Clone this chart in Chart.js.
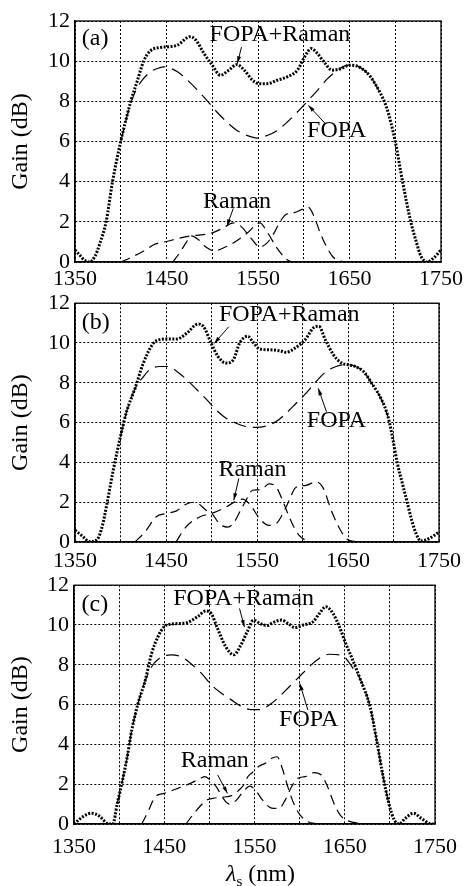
<!DOCTYPE html>
<html>
<head>
<meta charset="utf-8">
<script src="https://cdn.jsdelivr.net/npm/chart.js@4.4.1/dist/chart.umd.min.js"></script>
<style>
  html, body { margin: 0; padding: 0; background: #fff; }
  body { width: 467px; height: 886px; position: relative; overflow: hidden; }
  canvas { position: absolute; left: 0; }
</style>
</head>
<body>
<canvas id="ca" width="467" height="287" style="top:0px"></canvas>
<canvas id="cb" width="467" height="282" style="top:285px"></canvas>
<canvas id="cc" width="467" height="319" style="top:567px"></canvas>
<script>
// axis ticks
const xTicksShown = [1350, 1450, 1550, 1650, 1750];
const yTicks = [0, 2, 4, 6, 8, 10, 12];

// ---- panel (a) ----
const aTotalNm = [1350,1355,1360,1366,1372,1377,1384,1391,1400,1411,1418,1425,1432,1443,1454,1462,1476,1482,1491,1500,1509,1518,1527,1535,1544,1551,1560,1571,1582,1593,1602,1608,1615,1622,1631,1641,1650,1657,1666,1673,1684,1691,1700,1708,1717,1723,1728,1735,1742,1750];
const aTotalDb = [0.6,0.35,0.1,0,0.3,0.9,2.0,4.0,6.0,8.0,9.0,10.0,10.5,10.68,10.72,10.8,11.22,11.05,10.38,9.8,9.3,9.55,9.83,9.55,9.05,8.88,8.88,9.05,9.22,9.55,10.3,10.63,10.38,9.97,9.55,9.63,9.8,9.77,9.55,9.22,8.38,7.63,6.0,4.0,2.0,1.0,0.3,0,0.2,0.6];
const aFopaNm = [1400,1406,1412,1421,1432,1443,1447,1462,1473,1484,1495,1505,1516,1527,1538,1549,1560,1571,1582,1593,1604,1615,1626,1637,1648,1657,1666,1673,1684];
const aFopaDb = [6.0,7.1,8.05,8.9,9.45,9.68,9.72,9.47,9.05,8.55,8.0,7.47,6.97,6.55,6.3,6.17,6.3,6.55,6.97,7.47,8.0,8.55,9.13,9.55,9.8,9.77,9.55,9.22,8.38];
const aRamanANm = [1400,1410,1424,1438,1450,1461,1476,1488,1500,1512,1523,1532,1542,1552,1560,1567,1574,1581,1589,1600,1605,1611,1618,1625,1632,1640,1650];
const aRamanADb = [0,0.2,0.52,0.9,1.02,1.15,1.3,1.35,1.45,1.7,1.95,1.75,1.2,0.75,0.95,1.4,2.0,2.38,2.45,2.65,2.72,2.3,1.45,0.75,0.25,0.05,0];
const aRamanBNm = [1457,1465,1472,1477,1484,1493,1503,1512,1523,1538,1552,1560,1570,1581,1587];
const aRamanBDb = [0,0.5,1.0,1.3,1.15,0.75,0.55,0.7,0.95,1.43,1.95,1.5,0.74,0.14,0];

// ---- panel (b) ----
const bTotalNm = [1350,1358,1366,1374,1380,1385,1392,1400,1407,1416,1425,1436,1443,1451,1462,1473,1485,1491,1500,1507,1516,1524,1531,1540,1545,1553,1564,1575,1582,1592,1603,1612,1618,1625,1634,1643,1650,1658,1667,1676,1687,1694,1700,1704,1710,1715,1720,1725,1730,1739,1750];
const bTotalDb = [0.59,0.3,0.02,0.1,0.8,1.9,3.6,5.3,6.6,7.72,8.98,9.98,10.17,10.2,10.2,10.5,10.95,10.84,9.95,9.33,8.99,9.16,10.0,10.34,10.08,9.7,9.66,9.61,9.53,9.75,10.17,10.76,10.84,10.17,9.41,8.99,8.91,8.82,8.57,7.98,7.14,6.3,5.0,4.0,2.9,2.0,1.1,0.4,0.05,0.17,0.5];
const bFopaNm = [1400,1407,1416,1425,1432,1443,1452,1462,1473,1484,1495,1505,1516,1527,1538,1549,1560,1571,1582,1593,1604,1615,1626,1637,1648,1658,1667,1676,1687,1694];
const bFopaDb = [5.3,6.6,7.7,8.3,8.66,8.82,8.82,8.57,8.15,7.65,7.14,6.64,6.22,5.97,5.8,5.76,5.83,6.05,6.47,6.97,7.48,8.07,8.57,8.82,8.91,8.82,8.57,7.98,7.14,6.3];
const bRamanANm = [1416,1428,1439,1450,1461,1472,1482,1494,1501,1509,1518,1525,1532,1538,1545,1551,1557,1563,1571,1578,1585,1590,1596,1604,1615];
const bRamanADb = [0,0.57,1.26,1.43,1.55,1.9,2.0,1.6,1.4,0.9,0.75,1.0,1.6,2.1,2.6,2.62,2.7,2.92,2.77,2.1,1.3,0.8,0.35,0.08,0];
const bRamanBNm = [1461,1472,1487,1501,1516,1527,1534,1542,1553,1563,1571,1582,1593,1604,1615,1622,1633,1644,1651,1665];
const bRamanBDb = [0,0.76,1.26,1.45,1.76,2.05,2.15,1.9,1.17,0.84,0.92,1.76,2.75,2.85,3.02,2.77,1.43,0.42,0.08,0];

// ---- panel (c) ----
const cTotalNm = [1350,1360,1369,1378,1387,1393,1398,1403,1409,1414,1421,1429,1436,1443,1450,1458,1469,1476,1487,1496,1502,1509,1518,1527,1535,1542,1549,1556,1564,1571,1580,1587,1595,1604,1615,1622,1629,1637,1644,1651,1658,1667,1678,1685,1692,1699,1705,1710,1717,1726,1735,1746,1750];
const cTotalDb = [0,0.37,0.54,0.4,0.03,0,1.04,2.04,3.38,4.72,6.06,7.23,8.57,9.41,9.92,10.05,10.08,10.13,10.42,10.7,10.58,9.83,8.92,8.5,9.0,9.67,10.25,10.08,9.97,10.13,10.25,10.08,9.87,10.0,10.17,10.58,10.92,10.58,9.92,9.08,8.33,7.3,5.9,4.3,2.5,1.0,0.2,0,0.28,0.54,0.28,0,0];
const cFopaNm = [1398,1403,1409,1414,1421,1429,1436,1444,1457,1468,1479,1491,1502,1513,1524,1535,1546,1556,1567,1578,1589,1600,1611,1622,1633,1644,1651,1658,1667,1678,1685,1692,1699];
const cFopaDb = [1.04,2.04,3.38,4.72,6.06,7.2,7.9,8.3,8.5,8.42,8.08,7.58,7.0,6.58,6.25,5.92,5.75,5.75,6.0,6.42,6.92,7.42,7.92,8.33,8.53,8.5,8.33,7.9,7.3,5.9,4.3,2.5,1.0];
const cRamanANm = [1425,1432,1440,1450,1465,1479,1490,1495,1501,1508,1515,1522,1530,1537,1545,1551,1559,1569,1577,1584,1591,1598,1606,1616,1624,1631,1638,1645,1653,1667,1680];
const cRamanADb = [0,0.62,1.37,1.54,1.79,2.04,2.29,2.38,2.2,1.85,1.3,1.0,1.2,1.6,1.9,1.7,1.2,0.8,0.78,1.2,1.87,2.3,2.38,2.58,2.46,1.87,1.04,0.45,0.17,0.03,0];
const cRamanBNm = [1474,1486,1497,1504,1519,1523,1530,1537,1543,1548,1555,1562,1569,1575,1580,1588,1595,1602,1609,1620];
const cRamanBDb = [0,0.7,1.2,1.29,1.37,1.4,1.6,1.9,2.4,2.6,2.9,3.05,3.3,3.38,2.9,1.71,0.87,0.37,0.12,0];

const FONT = "'Liberation Serif', 'Times New Roman', serif";

function pts(xs, ys) {
  return xs.map((x, i) => ({ x: x, y: ys[i] }));
}

// draws text labels, arrows, the frame and (optionally) the x title
const notesPlugin = {
  id: 'notes',
  afterDraw(chart) {
    const o = chart.options.plugins.notes;
    const ctx = chart.ctx;
    const xs = chart.scales.x, ys = chart.scales.y;
    const a = chart.chartArea;
    ctx.save();
    // full box
    ctx.strokeStyle = '#000';
    ctx.lineWidth = 1.3;
    ctx.setLineDash([]);
    ctx.strokeRect(a.left, a.top, a.right - a.left, a.bottom - a.top);

    ctx.fillStyle = '#000';
    ctx.font = '24px ' + FONT;
    ctx.textBaseline = 'middle';
    o.items.forEach((n) => {
      ctx.textAlign = n.align || 'center';
      ctx.fillText(n.text, xs.getPixelForValue(n.x), ys.getPixelForValue(n.y));
      if (n.arrow) {
        const x0 = xs.getPixelForValue(n.arrow[0]), y0 = ys.getPixelForValue(n.arrow[1]);
        const x1 = xs.getPixelForValue(n.arrow[2]), y1 = ys.getPixelForValue(n.arrow[3]);
        ctx.lineWidth = 1;
        ctx.beginPath();
        ctx.moveTo(x0, y0);
        ctx.lineTo(x1, y1);
        ctx.stroke();
        const ang = Math.atan2(y1 - y0, x1 - x0);
        ctx.beginPath();
        ctx.moveTo(x1, y1);
        ctx.lineTo(x1 - 7 * Math.cos(ang) + 2 * Math.sin(ang), y1 - 7 * Math.sin(ang) - 2 * Math.cos(ang));
        ctx.lineTo(x1 - 7 * Math.cos(ang) - 2 * Math.sin(ang), y1 - 7 * Math.sin(ang) + 2 * Math.cos(ang));
        ctx.closePath();
        ctx.fill();
      }
    });

    if (o.xTitle) {
      const cx = (a.left + a.right) / 2 + 6;
      const cy = a.bottom + 51;
      ctx.textAlign = 'left';
      ctx.font = 'italic 24px ' + FONT;
      const w1 = ctx.measureText('λ').width;
      ctx.font = '15px ' + FONT;
      const w2 = ctx.measureText('s').width;
      ctx.font = '24px ' + FONT;
      const w3 = ctx.measureText(' (nm)').width;
      let x = cx - (w1 + w2 + w3) / 2;
      ctx.font = 'italic 24px ' + FONT;
      ctx.fillText('λ', x, cy);
      x += w1;
      ctx.font = '15px ' + FONT;
      ctx.fillText('s', x, cy + 7);
      x += w2;
      ctx.font = '24px ' + FONT;
      ctx.fillText(' (nm)', x, cy);
    }
    ctx.restore();
  }
};

function makePanel(id, g, s, items, xTitle) {
  const ctx = document.getElementById(id).getContext('2d');
  return new Chart(ctx, {
    type: 'line',
    data: {
      datasets: [
        {
          label: 'FOPA+Raman',
          data: pts(s.totalNm, s.totalDb),
          borderColor: '#000',
          borderWidth: 3,
          borderDash: [2, 1.5],
          pointRadius: 0,
          cubicInterpolationMode: 'monotone',
        },
        {
          label: 'FOPA',
          data: pts(s.fopaNm, s.fopaDb),
          borderColor: '#000',
          borderWidth: 1.2,
          borderDash: [13, 7],
          pointRadius: 0,
          cubicInterpolationMode: 'monotone',
        },
        {
          label: 'Raman 1',
          data: pts(s.ramanANm, s.ramanADb),
          borderColor: '#000',
          borderWidth: 1.2,
          borderDash: [10, 6],
          pointRadius: 0,
          cubicInterpolationMode: 'monotone',
        },
        {
          label: 'Raman 2',
          data: pts(s.ramanBNm, s.ramanBDb),
          borderColor: '#000',
          borderWidth: 1.2,
          borderDash: [10, 6],
          pointRadius: 0,
          cubicInterpolationMode: 'monotone',
        },
      ],
    },
    options: {
      responsive: false,
      animation: false,
      devicePixelRatio: 1,
      layout: {
        padding: { left: 0, right: 467 - g.right, top: g.top, bottom: 0 },
      },
      plugins: {
        legend: { display: false },
        tooltip: { enabled: false },
        notes: { items: items, xTitle: xTitle },
      },
      scales: {
        x: {
          type: 'linear',
          min: 1350,
          max: 1750,
          afterFit: (sc) => { sc.height = g.xAxisH; },
          grid: { color: '#000', lineWidth: 1, drawTicks: false },
          border: { color: '#000', width: 1.3, dash: [2, 2] },
          ticks: {
            stepSize: 50,
            padding: g.tickPad,
            color: '#000',
            font: { family: FONT, size: 22 },
            maxRotation: 0,
            autoSkip: false,
            callback: (v) => (xTicksShown.includes(v) ? String(v) : ''),
          },
        },
        y: {
          min: 0,
          max: 12,
          afterFit: (sc) => { sc.width = g.left; },
          grid: { color: '#000', lineWidth: 1, drawTicks: false },
          border: { color: '#000', width: 1.3, dash: [2, 2] },
          ticks: {
            stepSize: 2,
            padding: 5,
            color: '#000',
            font: { family: FONT, size: 22 },
            callback: (v) => (yTicks.includes(v) ? String(v) : ''),
          },
          title: {
            display: true,
            text: 'Gain (dB)',
            color: '#000',
            font: { family: FONT, size: 24 },
            padding: { top: 6, bottom: 0 },
          },
        },
      },
    },
    plugins: [notesPlugin],
  });
}

makePanel('ca',
  { left: 75, right: 441, top: 21, xAxisH: 25, tickPad: 4 },
  { totalNm: aTotalNm, totalDb: aTotalDb, fopaNm: aFopaNm, fopaDb: aFopaDb,
    ramanANm: aRamanANm, ramanADb: aRamanADb, ramanBNm: aRamanBNm, ramanBDb: aRamanBDb },
  [
    { text: '(a)', x: 1357.5, y: 11.1, align: 'left' },
    { text: 'FOPA+Raman', x: 1574, y: 11.3, arrow: [1532, 10.7, 1527.5, 9.9] },
    { text: 'FOPA', x: 1636, y: 6.55, arrow: [1623.4, 6.9, 1605, 7.8] },
    { text: 'Raman', x: 1527, y: 3.0, arrow: [1523, 2.67, 1516, 1.78] },
  ], false);

makePanel('cb',
  { left: 75, right: 441.7, top: 18, xAxisH: 25, tickPad: 6 },
  { totalNm: bTotalNm, totalDb: bTotalDb, fopaNm: bFopaNm, fopaDb: bFopaDb,
    ramanANm: bRamanANm, ramanADb: bRamanADb, ramanBNm: bRamanBNm, ramanBDb: bRamanBDb },
  [
    { text: '(b)', x: 1357.3, y: 11.0, align: 'left' },
    { text: 'FOPA+Raman', x: 1585.4, y: 11.4, arrow: [1519, 10.82, 1503, 9.98] },
    { text: 'FOPA', x: 1637.3, y: 6.08, arrow: [1626.4, 6.54, 1617.3, 7.72] },
    { text: 'Raman', x: 1545, y: 3.65, arrow: [1530, 3.19, 1524.5, 2.1] },
  ], false);

makePanel('cc',
  { left: 74, right: 443.3, top: 18, xAxisH: 62, tickPad: 10 },
  { totalNm: cTotalNm, totalDb: cTotalDb, fopaNm: cFopaNm, fopaDb: cFopaDb,
    ramanANm: cRamanANm, ramanADb: cRamanADb, ramanBNm: cRamanBNm, ramanBDb: cRamanBDb },
  [
    { text: '(c)', x: 1358.3, y: 11.0, align: 'left' },
    { text: 'FOPA+Raman', x: 1537.9, y: 11.3, arrow: [1533.4, 10.83, 1538.8, 9.9] },
    { text: 'FOPA', x: 1610, y: 5.22, arrow: [1609.2, 5.72, 1600.2, 7.06] },
    { text: 'Raman', x: 1506, y: 3.19, arrow: [1509.3, 2.46, 1520, 1.54] },
  ], true);
</script>
</body>
</html>
